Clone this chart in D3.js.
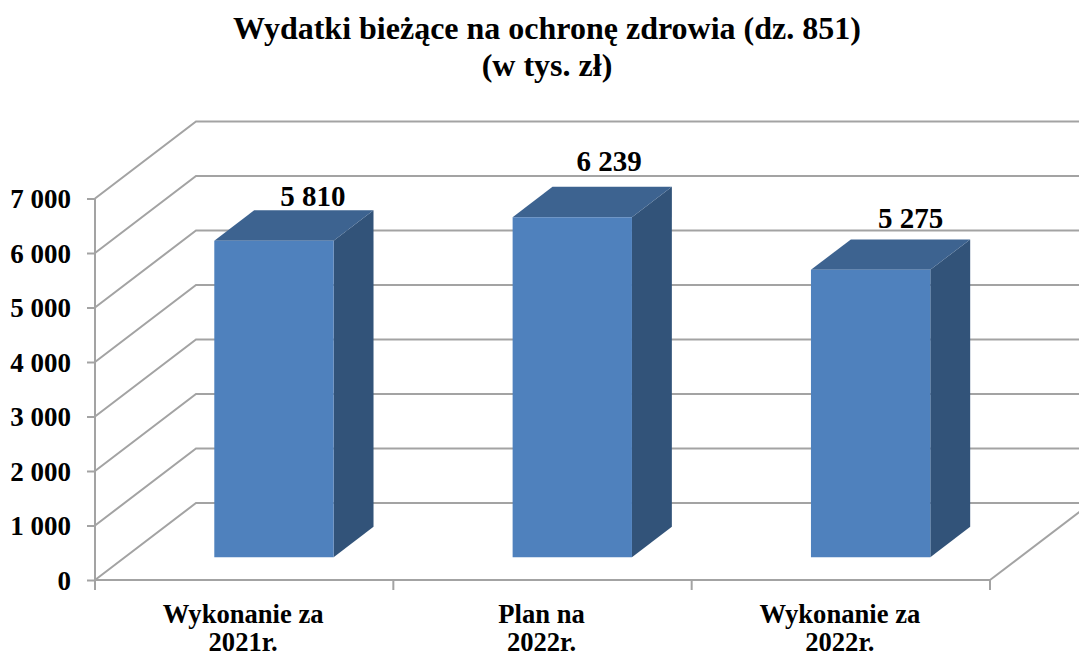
<!DOCTYPE html>
<html>
<head>
<meta charset="utf-8">
<script src="https://cdn.jsdelivr.net/npm/d3@7"></script>
<style>
html, body { margin: 0; padding: 0; background: #fff; overflow: hidden; }
text { font-family: "Liberation Serif", serif; font-weight: bold; fill: #000; }
.grid { stroke: #a3a3a3; stroke-width: 2; fill: none; }
</style>
</head>
<body>
<script>
// Chart data
var categories = ["Wykonanie za 2021r.", "Plan na 2022r.", "Wykonanie za 2022r."];
var values = [5810, 6239, 5275];
var valueLabels = ["5 810", "6 239", "5 275"];
var tickValues = [0, 1000, 2000, 3000, 4000, 5000, 6000, 7000];
var titleLines = ["Wydatki bieżące na ochronę zdrowia (dz. 851)", "(w tys. zł)"];

var width = 1079, height = 653;

// Front plane of the 3d box
var plot = {left: 95, right: 990, bottom: 580, top: 198.5};
// Offset of the back wall from the front plane
var depth = {x: 101, y: -77};
// Where the bars sit between the front plane (0) and the back wall (1)
var barFront = 0.295, barBack = 0.69;

var svg = d3.select("body").append("svg")
    .attr("width", width)
    .attr("height", height);

var xScale = d3.scaleBand()
    .domain(categories)
    .range([plot.left, plot.right])
    .paddingInner(0.6)
    .paddingOuter(0.3);

var band = d3.scaleBand()
    .domain(categories)
    .range([plot.left, plot.right]);

var yScale = d3.scaleLinear()
    .domain([0, 7000])
    .range([plot.bottom, plot.top]);

// Project a point (px on the front plane) to depth d
function px(x, d) { return x + depth.x * d; }
function py(y, d) { return y + depth.y * d; }

function points(list) {
    return list.map(function(p) { return p.join(","); }).join(" ");
}

var walls = svg.append("g").attr("class", "walls");

walls.selectAll(".wall-line")
    .data(tickValues)
    .enter()
    .append("polyline")
    .attr("class", "grid wall-line")
    .attr("points", function(d) {
        return points([
            [plot.left, yScale(d)],
            [px(plot.left, 1), py(yScale(d), 1)],
            [width + 5, py(yScale(d), 1)]
        ]);
    });

// Right edge of the floor
walls.append("line")
    .attr("class", "grid")
    .attr("x1", plot.right)
    .attr("y1", yScale(0))
    .attr("x2", px(plot.right, 1))
    .attr("y2", py(yScale(0), 1));

// Axes
var yAxis = d3.axisLeft()
    .scale(yScale)
    .tickValues(tickValues)
    .tickSize(8)
    .tickPadding(16)
    .tickFormat(function(d) { return d3.format(",")(d).replace(",", " "); });

var yG = svg.append("g")
    .attr("class", "y axis")
    .attr("transform", "translate(" + plot.left + ",0)")
    .call(yAxis);

yG.selectAll("line").attr("class", "grid").attr("stroke", null);
yG.select(".domain").attr("class", "grid domain").attr("stroke", null)
    .attr("d", "M0," + plot.top + "V" + plot.bottom);
yG.selectAll("text")
    .style("font-size", "27px")
    .attr("dy", "0.34em");

var xAxis = d3.axisBottom()
    .scale(band)
    .tickSize(0)
    .tickFormat("");

var xG = svg.append("g")
    .attr("class", "x axis")
    .attr("transform", "translate(0," + plot.bottom + ")")
    .call(xAxis);

xG.select(".domain").attr("class", "grid domain").attr("stroke", null)
    .attr("d", "M" + plot.left + ",0H" + plot.right);

xG.selectAll(".edge-tick")
    .data(d3.range(categories.length + 1))
    .enter()
    .append("line")
    .attr("class", "grid edge-tick")
    .attr("x1", function(i) { return plot.left + i * band.bandwidth(); })
    .attr("x2", function(i) { return plot.left + i * band.bandwidth(); })
    .attr("y1", 0)
    .attr("y2", 10);

// Category labels, wrapped in two lines
var catLabels = svg.selectAll(".cat-label")
    .data(categories)
    .enter()
    .append("text")
    .attr("class", "cat-label")
    .attr("text-anchor", "middle")
    .style("font-size", "26.6px")
    .attr("y", 623);

catLabels.each(function(d) {
    var cut = d.lastIndexOf(" ");
    var cx = band(d) + band.bandwidth() / 2 - 1;
    d3.select(this).append("tspan").attr("x", cx).text(d.slice(0, cut));
    d3.select(this).append("tspan").attr("x", cx).attr("dy", 28).text(d.slice(cut + 1));
});

// Bars, each made of front, top and side faces
var bars = svg.selectAll(".bar")
    .data(categories)
    .enter()
    .append("g")
    .attr("class", "bar");

var barBase = function(d) { return yScale(0); };
var barTop = function(d, i) { return yScale(values[i]); };
var x0 = function(d) { return xScale(d); };
var x1 = function(d) { return xScale(d) + xScale.bandwidth(); };

bars.append("polygon")
    .attr("fill", "#325379")
    .attr("points", function(d, i) {
        return points([
            [px(x1(d), barFront), py(barBase(d), barFront)],
            [px(x1(d), barBack), py(barBase(d), barBack)],
            [px(x1(d), barBack), py(barTop(d, i), barBack)],
            [px(x1(d), barFront), py(barTop(d, i), barFront)]
        ]);
    });

bars.append("polygon")
    .attr("fill", "#3d6390")
    .attr("points", function(d, i) {
        return points([
            [px(x0(d), barFront), py(barTop(d, i), barFront)],
            [px(x0(d), barBack), py(barTop(d, i), barBack)],
            [px(x1(d), barBack), py(barTop(d, i), barBack)],
            [px(x1(d), barFront), py(barTop(d, i), barFront)]
        ]);
    });

bars.append("polygon")
    .attr("fill", "#4f81bd")
    .attr("points", function(d, i) {
        return points([
            [px(x0(d), barFront), py(barBase(d), barFront)],
            [px(x1(d), barFront), py(barBase(d), barFront)],
            [px(x1(d), barFront), py(barTop(d, i), barFront)],
            [px(x0(d), barFront), py(barTop(d, i), barFront)]
        ]);
    });

// Value labels were placed by hand in the original
var labelShift = [{x: -1, y: -4}, {x: -3, y: -16}, {x: 0, y: -11}];

bars.append("text")
    .attr("class", "value-label")
    .attr("text-anchor", "middle")
    .style("font-size", "29px")
    .attr("x", function(d, i) {
        return px((x0(d) + x1(d)) / 2, barBack) + labelShift[i].x;
    })
    .attr("y", function(d, i) {
        return py(barTop(d, i), barBack) + labelShift[i].y;
    })
    .text(function(d, i) { return valueLabels[i]; });

// Title
svg.selectAll(".title")
    .data(titleLines)
    .enter()
    .append("text")
    .attr("class", "title")
    .attr("text-anchor", "middle")
    .style("font-size", "32px")
    .attr("x", 547)
    .attr("y", function(d, i) { return 39 + i * 37; })
    .text(function(d) { return d; });
</script>
</body>
</html>
